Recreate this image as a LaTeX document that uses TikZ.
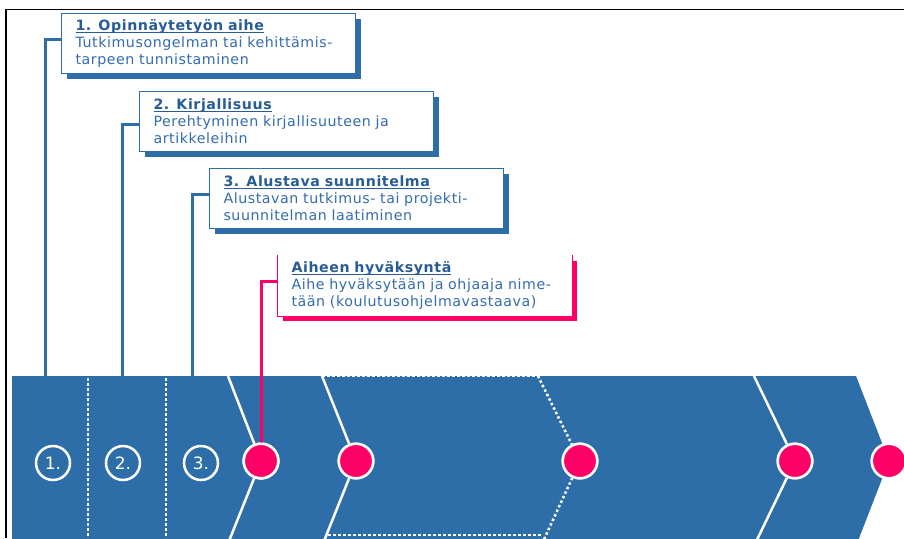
\documentclass[tikz,border=0pt]{standalone}
\usepackage{fontspec}
\setmainfont{DejaVu Sans}
\usetikzlibrary{shadows}
\definecolor{bandblue}{RGB}{46,110,168}
\definecolor{titleblue}{RGB}{40,92,152}
\definecolor{textblue}{RGB}{52,108,176}
\definecolor{hotpink}{RGB}{255,0,102}
\newcommand\boxtitle[1]{{\color{titleblue}\bfseries\setbox0\hbox{#1}\rlap{\rule[-2.2pt]{\wd0}{1.1pt}}\box0}}
\tikzset{
  infobox/.style={anchor=north west, fill=white, draw=bandblue, line width=1pt,
    minimum height=60pt, text width=266pt, inner xsep=14pt, inner ysep=0pt,
    align=left, text=textblue,
    font=\fontsize{14.2}{17}\selectfont\addfontfeature{LetterSpace=4},
    general shadow={fill=bandblue, shadow xshift=5pt, shadow yshift=-5pt}},
  pinkbox/.style={infobox, draw=none,
    general shadow={fill=hotpink, shadow xshift=5pt, shadow yshift=-5pt}},
  bluelink/.style={draw=bandblue, line width=3pt},
  pinklink/.style={draw=hotpink, line width=3pt},
  whiteline/.style={draw=white, line width=2.5pt},
  whitedots/.style={draw=white, line width=2.5pt, dash pattern=on 2.5pt off 2.5pt},
  numcircle/.style={circle, draw=white, line width=2.5pt, fill=bandblue,
    minimum size=34pt, inner sep=0pt, text=white, font=\fontsize{17}{19}\selectfont},
  pinkdot/.style={circle, draw=white, line width=2.5pt, fill=hotpink,
    minimum size=34.5pt, inner sep=0pt}
}
\begin{document}
\begin{tikzpicture}[x=1pt,y=-1pt]
\useasboundingbox (0,0) rectangle (904,538);
\clip (0,0) rectangle (904,538);
\fill[white] (0,0) rectangle (904,538);
% frame
\draw[black, line width=1.5pt] (6,538) -- (6,9.5) -- (904,9.5);
% band
\fill[bandblue] (12,376) -- (856,376) -- (889,461) -- (856,546) -- (12,546) -- cycle;
% circles on the band
\node[numcircle] (n1) at (53,463) {1.};
\node[numcircle] (n2) at (123,463) {2.};
\node[numcircle] (n3) at (201,463) {3.};
\node[pinkdot] (p1) at (261,461) {};
\node[pinkdot] (p2) at (356,461) {};
\node[pinkdot] (p3) at (580,461) {};
\node[pinkdot] (p4) at (795,461) {};
\node[pinkdot] (p5) at (889,461) {};
% chevron lines
\coordinate (l1t) at (228,376); \coordinate (l1b) at (227,546);
\coordinate (l2t) at (322,376); \coordinate (l2b) at (322,546);
\coordinate (l3t) at (538,376); \coordinate (l3b) at (541,546);
\coordinate (l4t) at (754,376); \coordinate (l4b) at (754,546);
\draw[whiteline] (l1t) -- (p1) -- (l1b);
\draw[whiteline] (l2t) -- (p2) -- (l2b);
\draw[whitedots] (l3t) -- (p3) -- (l3b);
\draw[whiteline] (l4t) -- (p4) -- (l4b);
% dotted separators
\coordinate (d1t) at (88,378); \coordinate (d1b) at (88,538);
\coordinate (d2t) at (166,378); \coordinate (d2b) at (166,538);
\draw[whitedots] (d1t) -- (d1b);
\draw[whitedots] (d2t) -- (d2b);
\draw[whitedots] (l2t) -- (l3t);
\coordinate (bb1) at (328,535); \coordinate (bb2) at (541,535);
\draw[whitedots] (bb1) -- (bb2);
% redraw dots on top
\node[pinkdot] at (p1) {};
\node[pinkdot] at (p2) {};
\node[pinkdot] at (p3) {};
\node[pinkdot] at (p4) {};
\node[pinkdot] at (p5) {};
% boxes
\node[infobox] (b1) at (61,13) {\boxtitle{1. Opinnäytetyön aihe}\\Tutkimusongelman tai kehittämis-\\tarpeen tunnistaminen};
\node[infobox] (b2) at (139,91) {\boxtitle{2. Kirjallisuus}\\Perehtyminen kirjallisuuteen ja\\artikkeleihin};
\node[infobox] (b3) at (209,168) {\boxtitle{3. Alustava suunnitelma}\\Alustavan tutkimus- tai projekti-\\suunnitelman laatiminen};
\node[pinkbox] (pb) at (277,255) {\boxtitle{Aiheen hyväksyntä}\\Aihe hyväksytään ja ohjaaja nime-\\tään (koulutusohjelmavastaava)};
\draw[hotpink, line width=1pt] (pb.north west) -- (pb.south west) -- (pb.south east) -- (pb.north east);
% connectors
\coordinate (c1) at (45,376);
\coordinate (c2) at (122,376);
\coordinate (c3) at (192,376);
\draw[bluelink] (c1) |- ([yshift=4pt]b1.west);
\draw[bluelink] (c2) |- ([yshift=-3pt]b2.west);
\draw[bluelink] (c3) |- ([yshift=4pt]b3.west);
\draw[pinklink] (p1.center) |- ([yshift=4pt]pb.west);
\node[pinkdot] at (p1) {};
\end{tikzpicture}
\end{document}
